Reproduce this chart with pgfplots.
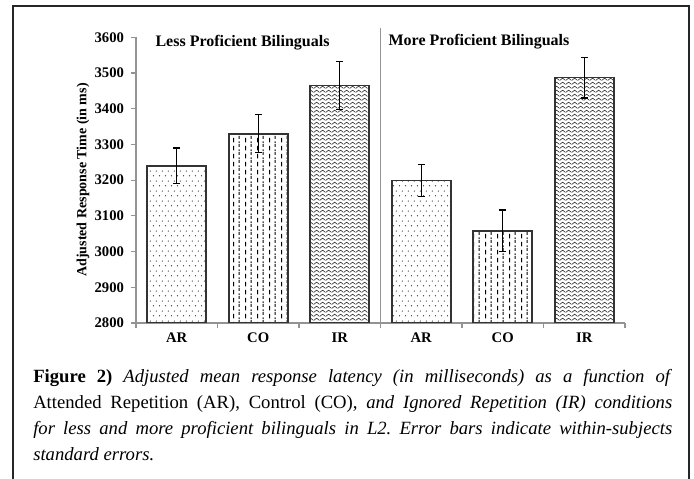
\documentclass[border=0pt]{standalone}
\usepackage{fontspec}
\setmainfont{Liberation Serif}
\usepackage{pgfplots}
\pgfplotsset{compat=1.18}
\usetikzlibrary{patterns}
\frenchspacing

\pgfdeclarepatternformonly{sdots}{\pgfqpoint{0pt}{0pt}}{\pgfqpoint{4.4pt}{7.6pt}}{\pgfqpoint{4.4pt}{7.6pt}}{%
  \pgfpathcircle{\pgfqpoint{1.1pt}{1.0pt}}{0.45pt}%
  \pgfpathcircle{\pgfqpoint{3.3pt}{4.8pt}}{0.45pt}%
  \pgfusepath{fill}}
\pgfdeclarepatternformonly{vdash}{\pgfqpoint{0pt}{0pt}}{\pgfqpoint{8.7pt}{6pt}}{\pgfqpoint{8.7pt}{6pt}}{%
  \pgfsetlinewidth{0.7pt}%
  \pgfpathmoveto{\pgfqpoint{1.2pt}{0.5pt}}\pgfpathlineto{\pgfqpoint{1.2pt}{4.3pt}}%
  \pgfpathmoveto{\pgfqpoint{5.55pt}{3.5pt}}\pgfpathlineto{\pgfqpoint{5.55pt}{6pt}}%
  \pgfpathmoveto{\pgfqpoint{5.55pt}{0pt}}\pgfpathlineto{\pgfqpoint{5.55pt}{1.3pt}}%
  \pgfusepath{stroke}}
\pgfdeclarepatternformonly{zigzag}{\pgfqpoint{0pt}{0pt}}{\pgfqpoint{4.2pt}{3.3pt}}{\pgfqpoint{4.2pt}{3.3pt}}{%
  \pgfsetlinewidth{0.5pt}%
  \pgfpathmoveto{\pgfqpoint{-0.2pt}{0.5pt}}\pgfpathlineto{\pgfqpoint{2.1pt}{2.4pt}}\pgfpathlineto{\pgfqpoint{4.4pt}{0.5pt}}%
  \pgfusepath{stroke}}

\begin{document}
\begin{tikzpicture}
\useasboundingbox (0,0) rectangle (520.5pt,359.25pt);
\draw[line width=1.1pt, black!85] (9.75pt,-3pt) -- (9.75pt,354.75pt) -- (516.75pt,354.75pt) -- (516.75pt,-3pt);
\begin{axis}[
  name=ax,
  at={(102pt,117pt)}, anchor=south west,
  scale only axis, width=366.75pt, height=214.3pt,
  xmin=-0.5, xmax=5.5, ymin=2800, ymax=3600,
  ytick={2800,2900,...,3600},
  xtick={-0.5,0.5,...,5.5}, xticklabels={},
  extra x ticks={0,1,2,3,4,5},
  extra x tick labels={AR,CO,IR,AR,CO,IR},
  extra x tick style={major tick length=0pt},
  axis x line*=bottom, axis y line*=left,
  axis line style={draw=gray!85, line width=1pt, -},
  tick style={draw=gray!85, line width=0.8pt},
  major tick length=3.5pt,
  tick align=outside,
  ticklabel style={font=\bfseries\fontsize{11}{12}\selectfont},
  yticklabel style={xshift=-2pt},
  xticklabel style={yshift=-4pt},
  /pgf/number format/assume math mode=true,
  /pgf/number format/1000 sep={},
  ybar, bar width=44.25pt, bar shift=0pt,
]
\addplot[draw=black!80, line width=1.2pt, pattern=sdots, pattern color=black,
  error bars/.cd, y dir=both, y explicit,
  error bar style={black, line width=1pt},
  error mark options={rotate=90, mark size=2.6pt, line width=1pt, black}]
  coordinates {(0,3240) +- (0,50) (3,3199) +- (0,45)};
\addplot[draw=black!80, line width=1.2pt, pattern=vdash, pattern color=black,
  error bars/.cd, y dir=both, y explicit,
  error bar style={black, line width=1pt},
  error mark options={rotate=90, mark size=2.6pt, line width=1pt, black}]
  coordinates {(1,3330) +- (0,53) (4,3058) +- (0,58)};
\addplot[draw=black!80, line width=1.2pt, pattern=zigzag, pattern color=black!85,
  error bars/.cd, y dir=both, y explicit,
  error bar style={black, line width=1pt},
  error mark options={rotate=90, mark size=2.6pt, line width=1pt, black}]
  coordinates {(2,3465) +- (0,68) (5,3487) +- (0,57)};
\end{axis}
\draw[gray!85, line width=1.4pt] (ax.south) -- ([yshift=7pt]ax.north);
\node[font=\bfseries\fontsize{12}{13}\selectfont] at (181.9pt,327pt) {Less Proficient Bilinguals};
\node[font=\bfseries\fontsize{12}{13}\selectfont] at (359.25pt,327.75pt) {More Proficient Bilinguals};
\node[rotate=90, font=\bfseries\fontsize{10.5}{12}\selectfont] at (62.25pt,224.25pt) {Adjusted Response Time (in ms)};
\node[anchor=north west, inner sep=0pt, text width=479.25pt, align=justify,
  font=\fontsize{14}{19.5}\selectfont] at (24.75pt,82.6pt)
  {\textbf{Figure 2)} \textit{Adjusted mean response latency (in milliseconds) as a function of}\linebreak
   Attended Repetition (AR), Control (CO), \textit{and Ignored Repetition (IR) conditions}\linebreak
   \textit{for less and more proficient bilinguals in L2. Error bars indicate within-subjects}\linebreak
   \textit{standard errors.}};
\end{tikzpicture}
\end{document}
